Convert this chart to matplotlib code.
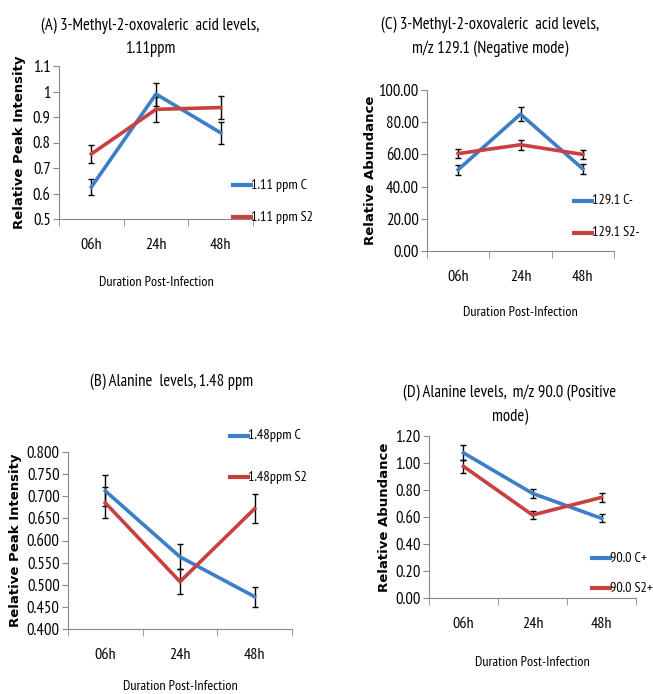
import matplotlib
matplotlib.use("Agg")
import matplotlib.pyplot as plt

# data
times = ["06h", "24h", "48h"]

a_c = [0.625, 0.99, 0.838]
a_c_err = [0.032, 0.045, 0.042]
a_s2 = [0.755, 0.93, 0.937]
a_s2_err = [0.035, 0.05, 0.046]

c_c = [50.5, 85.0, 51.0]
c_c_err = [3.0, 4.5, 3.0]
c_s2 = [60.5, 66.0, 60.0]
c_s2_err = [3.0, 3.0, 3.0]

b_c = [0.712, 0.563, 0.473]
b_c_err = [0.035, 0.028, 0.023]
b_s2 = [0.685, 0.507, 0.672]
b_s2_err = [0.035, 0.028, 0.033]

d_c = [1.075, 0.775, 0.59]
d_c_err = [0.055, 0.035, 0.03]
d_s2 = [0.975, 0.615, 0.745]
d_s2_err = [0.05, 0.03, 0.035]

BLUE = "#3d7fc6"
RED = "#c8403f"
W, H = 653, 694

narrow = ["PT Sans Narrow", "DejaVu Sans"]

fig = plt.figure(figsize=(W / 100, H / 100), dpi=100, facecolor="white")


def px_axes(l, t, r, b):
    return fig.add_axes([l / W, 1 - b / H, (r - l) / W, (b - t) / H])


def panel(rect, c, c_err, s2, s2_err, labels, ylim, yticks, yfmt, ylabel, ylab_x,
          title, title_xy, xlabel_y, leg_xy, leg_gap):
    ax = px_axes(*rect)
    x = range(len(times))
    ax.errorbar(x, c, yerr=c_err, color=BLUE, lw=2.6, ecolor="black",
                elinewidth=1, capsize=2.5, capthick=1, label=labels[0], zorder=3)
    ax.errorbar(x, s2, yerr=s2_err, color=RED, lw=2.6, ecolor="black",
                elinewidth=1, capsize=2.5, capthick=1, label=labels[1], zorder=3)
    ax.set_xlim(-0.5, 2.5)
    ax.set_ylim(*ylim)
    ax.set_yticks(yticks)
    ax.set_yticklabels([yfmt.format(v) for v in yticks], family=narrow, fontsize=12)
    ax.set_xticks(list(x))
    ax.set_xticklabels(times, family=narrow, fontsize=11.5)
    ax.set_xticks([-0.5, 0.5, 1.5, 2.5], minor=True)
    ax.tick_params(axis="x", which="major", length=0, pad=14)
    ax.tick_params(axis="x", which="minor", length=5, color="#888888", direction="out")
    ax.tick_params(axis="y", length=4, color="#888888", direction="out", pad=2)
    for s in ["top", "right"]:
        ax.spines[s].set_visible(False)
    for s in ["left", "bottom"]:
        ax.spines[s].set_color("#888888")
    fig.text(ylab_x / W, 1 - (rect[1] + rect[3]) / 2 / H, ylabel, fontsize=9.5,
             fontweight="bold", rotation=90, ha="center", va="center")
    fig.text(title_xy[0] / W, 1 - title_xy[1] / H, title, family=narrow,
             fontsize=12, ha="center", va="center", linespacing=1.6)
    cx = (rect[0] + rect[2]) / 2
    fig.text(cx / W, 1 - xlabel_y / H, "Duration Post-Infection", family=narrow,
             fontsize=10.2, ha="center", va="center")
    handles, labs = ax.get_legend_handles_labels()
    for i, (h, lab) in enumerate(zip(handles, labs)):
        lx, ly = leg_xy
        ly = ly + i * leg_gap
        fig.add_artist(plt.Line2D([lx / W, (lx + 18) / W], [1 - ly / H, 1 - ly / H],
                                  color=h[0].get_color(), lw=3))
        fig.text((lx + 18) / W, 1 - ly / H, lab, family=narrow, fontsize=10.3,
                 ha="left", va="center")
    return ax


panel((59, 66, 253, 219), a_c, a_c_err, a_s2, a_s2_err,
      ["1.11 ppm C", "1.11 ppm S2"], (0.5, 1.1),
      [0.5, 0.6, 0.7, 0.8, 0.9, 1.0, 1.1], "{:g}", "Relative Peak Intensity", 20,
      "(A) 3-Methyl-2-oxovaleric  acid levels,\n1.11ppm", (150, 37), 283,
      (233, 185), 32)

panel((427, 90, 614, 251), c_c, c_c_err, c_s2, c_s2_err,
      ["129.1 C-", "129.1 S2-"], (0, 100),
      [0, 20, 40, 60, 80, 100], "{:.2f}", "Relative Abundance", 371,
      "(C) 3-Methyl-2-oxovaleric  acid levels,\nm/z 129.1 (Negative mode)", (490, 37), 313,
      (574, 201), 32)

panel((68, 452, 292, 629), b_c, b_c_err, b_s2, b_s2_err,
      ["1.48ppm C", "1.48ppm S2"], (0.4, 0.8),
      [0.4, 0.45, 0.5, 0.55, 0.6, 0.65, 0.7, 0.75, 0.8], "{:.3f}", "Relative Peak Intensity", 16,
      "(B) Alanine  levels, 1.48 ppm", (172, 382), 686,
      (230, 436), 41)

panel((429, 436, 636, 598), d_c, d_c_err, d_s2, d_s2_err,
      ["90.0 C+", "90.0 S2+"], (0, 1.2),
      [0, 0.2, 0.4, 0.6, 0.8, 1.0, 1.2], "{:.2f}", "Relative Abundance", 385,
      "(D) Alanine levels,  m/z 90.0 (Positive\nmode)", (510, 405), 663,
      (592, 558), 30)

fig.savefig("out.png", dpi=100, facecolor="white")
